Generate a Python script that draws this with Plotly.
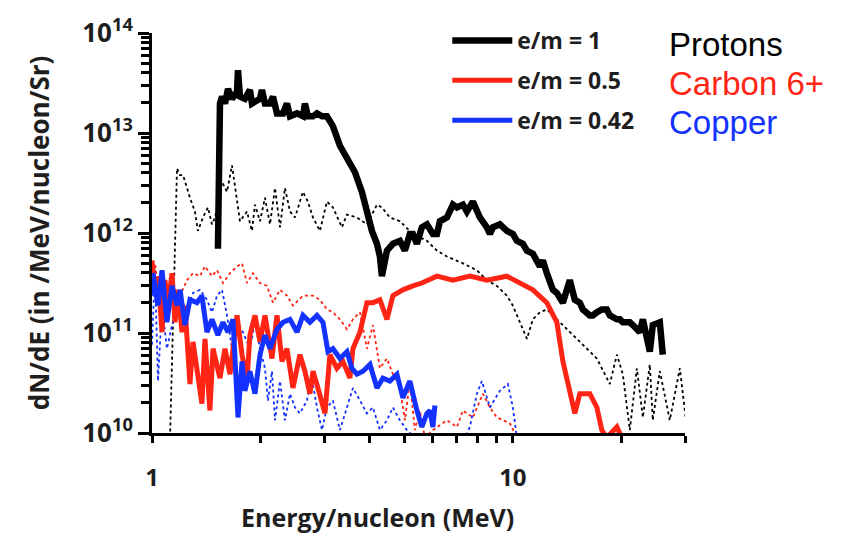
import plotly.graph_objects as go

# ---------------- data ----------------
proton_E = [1.523, 1.543, 1.563, 1.593, 1.624, 1.666, 1.720, 1.731, 1.753, 1.809, 1.868, 1.892,
            1.992, 2.017, 2.056, 2.123, 2.164, 2.220, 2.307, 2.366, 2.412, 2.522, 2.620, 2.653,
            2.704, 2.793, 2.865, 2.958, 3.053, 3.172, 3.317, 3.469, 3.581, 3.651, 3.817, 3.941,
            4.069, 4.201, 4.281, 4.336, 4.477, 4.652, 4.864, 5.020, 5.183, 5.284, 5.420, 5.595,
            5.779, 6.004, 6.160, 6.279, 6.566, 6.822, 6.999, 7.271, 7.457, 7.749, 7.949, 8.102,
            8.472, 8.637, 8.803, 9.204, 9.625, 10.00, 10.26, 10.66, 10.94, 11.36, 11.88, 12.11,
            12.42, 12.91, 13.24, 13.76, 14.38, 14.85, 15.33, 15.63, 16.34, 16.66, 17.09, 17.64,
            18.21, 18.56, 19.42, 19.79, 20.17, 21.09, 21.50, 22.06, 22.48, 22.92, 23.96, 24.42,
            25.54, 26.03]
proton_dNdE = [6.97e11, 1.97e13, 2.31e13, 1.97e13, 2.76e13, 2.20e13, 2.58e13, 4.24e13, 2.31e13, 2.20e13, 2.70e13, 1.97e13,
               2.20e13, 2.70e13, 1.97e13, 1.97e13, 2.31e13, 1.57e13, 1.57e13, 1.97e13, 1.47e13, 1.57e13, 1.47e13, 1.97e13,
               1.47e13, 1.47e13, 1.57e13, 1.47e13, 1.47e13, 1.17e13, 7.46e12, 5.56e12, 4.75e12, 4.05e12, 2.58e12, 1.64e12,
               1.05e12, 7.80e11, 5.82e11, 3.70e11, 6.66e11, 7.80e11, 8.35e11, 6.66e11, 9.78e11, 9.78e11, 7.80e11, 1.14e12,
               1.22e12, 9.78e11, 9.78e11, 1.31e12, 1.43e12, 1.92e12, 1.80e12, 1.92e12, 1.64e12, 2.06e12, 1.64e12, 1.43e12,
               1.14e12, 9.78e11, 1.14e12, 1.22e12, 1.05e12, 9.78e11, 8.35e11, 7.80e11, 6.66e11, 6.22e11, 4.64e11, 5.31e11,
               3.96e11, 2.70e11, 2.52e11, 2.01e11, 3.38e11, 2.15e11, 2.01e11, 1.72e11, 1.50e11, 1.50e11, 1.61e11, 1.72e11,
               1.72e11, 1.50e11, 1.37e11, 1.37e11, 1.28e11, 1.28e11, 1.20e11, 1.09e11, 1.02e11, 1.37e11, 6.51e10, 1.20e11,
               1.28e11, 6.08e10]

proton_bg_E = [1.122, 1.173, 1.196, 1.219, 1.250, 1.274, 1.315, 1.341, 1.384, 1.429, 1.466, 1.495,
               1.563, 1.614, 1.666, 1.720, 1.753, 1.833, 1.892, 1.929, 1.992, 2.056, 2.123, 2.192,
               2.263, 2.336, 2.412, 2.490, 2.620, 2.704, 2.793, 2.920, 3.053, 3.172, 3.360, 3.469,
               3.698, 3.941, 4.201, 4.336, 4.564, 4.864, 5.284, 5.779, 6.160, 6.566, 7.271, 7.949,
               8.472, 9.031, 9.625, 10.00, 10.45, 10.94, 11.36, 11.88, 12.42, 13.24, 13.76, 14.38,
               15.04, 15.63, 16.34, 17.09, 17.64, 18.56, 19.42, 20.17, 21.09, 22.06, 22.92, 23.96,
               24.42, 25.54, 27.22, 29.02, 30.34]
proton_bg_dNdE = [9.0e9, 4.44e12, 3.79e12, 3.79e12, 2.82e12, 2.25e12, 1.64e12, 1.05e12, 1.43e12, 1.80e12, 1.22e12, 1.43e12,
                  3.24e12, 2.58e12, 4.75e12, 2.25e12, 1.31e12, 1.64e12, 1.05e12, 1.92e12, 1.31e12, 2.25e12, 1.22e12, 2.82e12,
                  1.14e12, 2.82e12, 1.64e12, 1.43e12, 2.58e12, 2.06e12, 1.43e12, 1.05e12, 2.06e12, 1.80e12, 1.14e12, 1.53e12,
                  1.43e12, 1.22e12, 1.92e12, 1.80e12, 1.43e12, 1.31e12, 9.78e11, 8.35e11, 6.66e11, 5.82e11, 4.97e11, 4.24e11,
                  3.38e11, 2.96e11, 2.36e11, 1.88e11, 1.28e11, 8.73e10, 1.37e11, 1.61e11, 1.72e11, 1.37e11, 1.20e11, 1.02e11,
                  8.73e10, 7.62e10, 6.51e10, 5.56e10, 4.44e10, 3.09e10, 6.08e10, 3.87e10, 1.07e10, 4.44e10, 1.43e10, 4.85e10,
                  1.34e10, 4.15e10, 1.34e10, 4.44e10, 1.15e10]

carbon_E = [1.000, 1.019, 1.039, 1.066, 1.086, 1.107, 1.136, 1.158, 1.180, 1.211, 1.234, 1.274,
            1.299, 1.375, 1.402, 1.447, 1.476, 1.543, 1.593, 1.645, 1.720, 1.776, 1.833, 1.868,
            1.929, 1.992, 2.056, 2.150, 2.220, 2.292, 2.366, 2.458, 2.570, 2.653, 2.739, 2.793,
            2.883, 3.015, 3.112, 3.254, 3.381, 3.536, 3.604, 3.769, 3.941, 4.095, 4.281, 4.477,
            4.652, 4.958, 5.284, 5.595, 6.160, 6.822, 7.601, 8.472, 9.625, 10.45, 11.36, 12.42,
            13.24, 13.76, 14.38, 14.85, 15.33, 16.34, 17.09, 17.64, 18.21, 19.42, 20.04]
carbon_dNdE = [5.31e11, 2.70e11, 3.70e11, 1.02e11, 3.38e11, 1.88e11, 3.96e11, 1.28e11, 2.70e11, 1.02e11, 1.88e11, 3.09e10,
               8.16e10, 1.97e10, 8.73e10, 1.68e10, 6.97e10, 3.54e10, 6.97e10, 3.87e10, 1.50e11, 6.08e10, 3.31e10, 9.55e10,
               1.50e11, 8.16e10, 1.50e11, 5.56e10, 1.50e11, 5.20e10, 6.97e10, 2.82e10, 6.08e10, 4.15e10, 2.47e10, 4.15e10,
               2.82e10, 1.57e10, 6.08e10, 4.44e10, 5.20e10, 3.54e10, 6.97e10, 1.02e11, 2.01e11, 2.01e11, 2.15e11, 1.37e11,
               2.36e11, 2.70e11, 2.96e11, 3.16e11, 3.70e11, 3.38e11, 3.70e11, 3.38e11, 3.70e11, 3.16e11, 2.70e11, 2.01e11,
               1.28e11, 5.20e10, 2.47e10, 1.57e10, 2.47e10, 2.47e10, 1.80e10, 1.07e10, 9.0e9, 1.15e10, 9.0e9]

carbon_bg_E = [1.000, 1.019, 1.052, 1.073, 1.100, 1.143, 1.196, 1.250, 1.299, 1.358, 1.402, 1.466,
               1.514, 1.573, 1.645, 1.720, 1.776, 1.833, 1.905, 1.992, 2.083, 2.164, 2.263, 2.366,
               2.458, 2.620, 2.793, 2.920, 3.053, 3.172, 3.317, 3.469, 3.604, 3.769, 3.941, 4.095,
               4.281, 4.477, 4.652, 4.864, 5.020, 5.183, 5.351, 5.524, 5.703, 6.004, 6.566, 6.999,
               7.271, 7.749, 8.259, 8.637, 9.031, 9.382, 9.811, 10.26]
carbon_bg_dNdE = [3.96e11, 4.97e11, 2.01e11, 3.70e11, 2.52e11, 2.96e11, 2.36e11, 3.38e11, 3.96e11, 3.70e11, 4.64e11, 3.70e11,
                  4.24e11, 3.16e11, 3.96e11, 4.64e11, 4.97e11, 3.16e11, 3.96e11, 3.16e11, 2.96e11, 2.01e11, 2.70e11, 2.36e11,
                  1.88e11, 2.36e11, 2.36e11, 2.15e11, 1.72e11, 1.61e11, 1.37e11, 1.09e11, 1.37e11, 1.61e11, 6.97e10, 1.20e11,
                  4.44e10, 5.56e10, 3.87e10, 2.82e10, 1.34e10, 3.31e10, 1.07e10, 1.68e10, 9.0e9, 1.07e10, 1.34e10, 1.15e10,
                  1.68e10, 1.43e10, 2.47e10, 1.80e10, 1.43e10, 1.34e10, 1.25e10, 9.0e9]

copper_E = [1.000, 1.006, 1.039, 1.066, 1.100, 1.136, 1.173, 1.196, 1.234, 1.274, 1.332, 1.375,
            1.420, 1.466, 1.523, 1.573, 1.624, 1.677, 1.731, 1.776, 1.809, 1.868, 1.929, 1.992,
            2.056, 2.123, 2.220, 2.307, 2.412, 2.522, 2.620, 2.739, 2.865, 2.977, 3.073, 3.172,
            3.317, 3.469, 3.581, 3.698, 3.842, 4.018, 4.201, 4.364, 4.564, 4.772, 4.958, 5.183,
            5.420, 5.595, 5.779, 5.890, 6.004, 6.081]
copper_dNdE = [2.36e11, 3.96e11, 1.88e11, 4.24e11, 1.28e11, 2.96e11, 1.88e11, 2.70e11, 1.20e11, 2.15e11, 2.01e11, 2.36e11,
               1.02e11, 1.37e11, 9.55e10, 1.28e11, 1.02e11, 1.37e11, 1.43e10, 5.20e10, 2.64e10, 4.15e10, 2.47e10, 6.08e10,
               9.55e10, 6.97e10, 1.09e11, 1.28e11, 1.37e11, 1.02e11, 1.50e11, 1.28e11, 1.50e11, 1.28e11, 6.51e10, 6.97e10,
               5.56e10, 6.51e10, 4.44e10, 3.87e10, 4.15e10, 4.85e10, 2.82e10, 3.54e10, 3.31e10, 3.87e10, 2.25e10, 3.31e10,
               1.68e10, 1.15e10, 1.57e10, 1.68e10, 1.15e10, 1.88e10]

copper_bg_E = [1.000, 1.019, 1.039, 1.066, 1.100, 1.136, 1.173, 1.211, 1.250, 1.299, 1.358, 1.420,
               1.466, 1.514, 1.563, 1.614, 1.666, 1.720, 1.787, 1.868, 1.929, 1.992, 2.056, 2.096,
               2.150, 2.192, 2.263, 2.336, 2.412, 2.490, 2.570, 2.687, 2.774, 2.865, 2.958, 3.053,
               3.172, 3.317, 3.469, 3.604, 3.769, 3.941, 4.095, 4.281, 4.477, 4.652, 4.864, 5.085,
               5.351, 7.362, 7.601, 7.949, 8.206, 8.637, 9.204, 9.685, 10.00, 10.26]
copper_bg_dNdE = [7.62e10, 4.24e11, 3.31e10, 1.88e11, 6.97e10, 1.20e11, 1.72e11, 2.01e11, 1.72e11, 2.52e11, 2.70e11, 2.15e11,
                  1.61e11, 2.36e11, 2.70e11, 1.50e11, 6.97e10, 1.28e11, 1.02e11, 6.97e10, 1.28e11, 6.97e10, 4.44e10, 2.11e10,
                  4.15e10, 1.34e10, 3.31e10, 1.34e10, 2.47e10, 1.80e10, 1.57e10, 2.11e10, 3.54e10, 1.80e10, 1.07e10, 1.80e10,
                  2.11e10, 1.07e10, 1.80e10, 2.82e10, 2.11e10, 1.57e10, 1.80e10, 1.07e10, 1.34e10, 1.80e10, 1.34e10, 1.07e10,
                  9.0e9, 9.0e9, 1.15e10, 2.47e10, 3.31e10, 1.80e10, 2.64e10, 3.09e10, 1.80e10, 9.0e9]

legend_labels = ["e/m = 1", "e/m = 0.5", "e/m = 0.42"]
species_labels = ["Protons", "Carbon 6+", "Copper"]

x_major_vals = [1, 10]
x_major_text = ["1", "10"]
x_minor_vals = [2, 3, 4, 5, 6, 7, 8, 9, 20, 30]
y_major_vals = [1e10, 1e11, 1e12, 1e13, 1e14]
y_major_text = ["10<sup>10</sup>", "10<sup>11</sup>", "10<sup>12</sup>", "10<sup>13</sup>", "10<sup>14</sup>"]
y_minor_vals = [m * 10 ** p for p in range(10, 14) for m in range(2, 10)]

BLACK = "#000000"
RED = "#ff2414"
BLUE = "#1432ff"
TXT = "#1e1e1e"

fig = go.Figure()

# dotted background spectra
for xs, ys, col in [(proton_bg_E, proton_bg_dNdE, BLACK),
                    (carbon_bg_E, carbon_bg_dNdE, RED),
                    (copper_bg_E, copper_bg_dNdE, BLUE)]:
    fig.add_trace(go.Scatter(x=xs, y=ys, mode="lines", showlegend=False, hoverinfo="skip",
                             line=dict(color=col, width=1.8, dash="dot")))

# solid spectra
fig.add_trace(go.Scatter(x=carbon_E, y=carbon_dNdE, mode="lines", name=legend_labels[1],
                         legendgroup="c", legendrank=2, line=dict(color=RED, width=5)))
fig.add_trace(go.Scatter(x=copper_E, y=copper_dNdE, mode="lines", name=legend_labels[2],
                         legendgroup="u", legendrank=3, line=dict(color=BLUE, width=5)))
fig.add_trace(go.Scatter(x=proton_E, y=proton_dNdE, mode="lines", name=legend_labels[0],
                         legendgroup="p", legendrank=1, line=dict(color=BLACK, width=6.5)))

bold_font = "Open Sans"

fig.update_layout(
    width=845, height=537,
    margin=dict(l=152, r=160, t=25, b=104),
    paper_bgcolor="white", plot_bgcolor="white",
    showlegend=True,
    legend=dict(x=0.554, y=1.035, xanchor="left", yanchor="top",
                bgcolor="rgba(0,0,0,0)", borderwidth=0,
                font=dict(family=bold_font, size=23, color=TXT, weight="bold"),
                itemwidth=60, tracegroupgap=7, traceorder="grouped"),
    xaxis=dict(type="log", range=[0, 1.477],
               tickmode="array", tickvals=x_major_vals, ticktext=x_major_text,
               ticks="outside", ticklen=7, tickwidth=2.5, tickcolor="black",
               minor=dict(tickmode="array", tickvals=x_minor_vals, ticks="outside",
                          ticklen=7, tickwidth=2.5, tickcolor="black", showgrid=False),
               showline=True, linecolor="black", linewidth=3, showgrid=False, zeroline=False,
               ticklabelstandoff=14,
               tickfont=dict(family=bold_font, size=24, color=TXT, weight="bold")),
    yaxis=dict(type="log", range=[10, 14],
               tickmode="array", tickvals=y_major_vals, ticktext=y_major_text,
               ticks="outside", ticklen=11, tickwidth=2.5, tickcolor="black",
               minor=dict(tickmode="array", tickvals=y_minor_vals, ticks="outside",
                          ticklen=8, tickwidth=2.5, tickcolor="black", showgrid=False),
               showline=True, linecolor="black", linewidth=3, showgrid=False, zeroline=False,
               tickfont=dict(family=bold_font, size=26, color=TXT, weight="bold"),
               title=dict(text="dN/dE (in /MeV/nucleon/Sr)", standoff=26,
                          font=dict(family=bold_font, size=26, color=TXT, weight="bold"))),
)

# x-axis title (placed left of centre as in the reference)
fig.add_annotation(text="Energy/nucleon (MeV)", xref="paper", yref="paper",
                   x=0.424, y=-0.21, xanchor="center", yanchor="middle", showarrow=False,
                   font=dict(family=bold_font, size=25, color=TXT, weight="bold"))

for label, col, yv in zip(species_labels, [BLACK, RED, BLUE], [0.972, 0.874, 0.776]):
    fig.add_annotation(text=label, xref="paper", yref="paper", x=0.966, y=yv,
                       xanchor="left", yanchor="middle", showarrow=False,
                       font=dict(family="Liberation Sans", size=33, color=col))

fig.write_html("out.html")
